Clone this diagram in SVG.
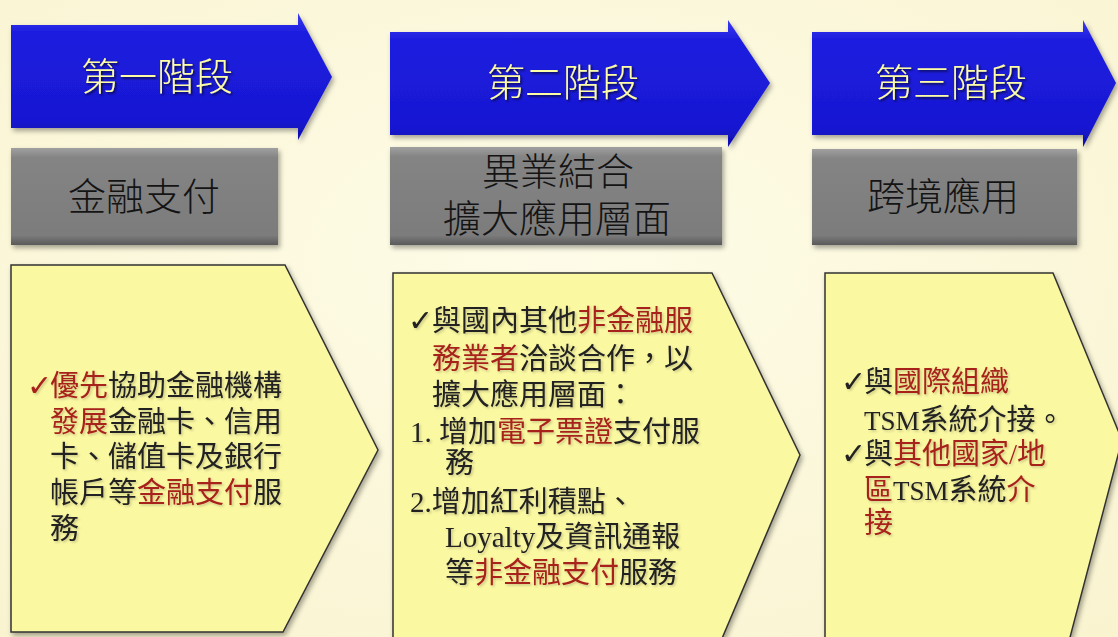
<svg xmlns="http://www.w3.org/2000/svg" width="1118" height="637" viewBox="0 0 1118 637">
<defs>
<radialGradient id="bg" cx="0.5" cy="0.4" r="0.8">
<stop offset="0" stop-color="#fefce8"/>
<stop offset="1" stop-color="#f9f3cf"/>
</radialGradient>
<linearGradient id="blue" x1="0" y1="0" x2="0" y2="1">
<stop offset="0" stop-color="#3a3af0"/>
<stop offset="0.15" stop-color="#1e1ee0"/>
<stop offset="0.85" stop-color="#1717d2"/>
<stop offset="1" stop-color="#0c0ca8"/>
</linearGradient>
<linearGradient id="gray" x1="0" y1="0" x2="0" y2="1">
<stop offset="0" stop-color="#a0a0a0"/>
<stop offset="0.1" stop-color="#848484"/>
<stop offset="0.9" stop-color="#7c7c7c"/>
<stop offset="1" stop-color="#5a5a5a"/>
</linearGradient>
<filter id="sh" x="-10%" y="-10%" width="130%" height="130%">
<feDropShadow dx="2" dy="3" stdDeviation="2.5" flood-color="#000" flood-opacity="0.35"/>
</filter>
<filter id="tsh" x="-10%" y="-20%" width="130%" height="150%">
<feDropShadow dx="1.5" dy="1.5" stdDeviation="1" flood-color="#000" flood-opacity="0.7"/>
</filter>
<filter id="bsh" x="-10%" y="-20%" width="130%" height="150%">
<feDropShadow dx="1.5" dy="1.5" stdDeviation="1.2" flood-color="#000" flood-opacity="0.2"/>
</filter>
</defs>
<style>
.arrow{fill:url(#blue);filter:url(#sh)}
.box{fill:url(#gray);filter:url(#sh)}
.pent{fill:#fbf8a2;stroke:#333;stroke-width:1.5;filter:url(#sh)}
.title{font-family:"Noto Sans CJK TC","Noto Sans CJK SC",sans-serif;font-size:38px;font-weight:300;fill:#fdfda6;text-anchor:middle;filter:url(#tsh)}
.sub{font-family:"Noto Sans CJK TC","Noto Sans CJK SC",sans-serif;font-size:38px;font-weight:300;fill:#141414;text-anchor:middle}
.body{font-family:"Liberation Serif","Noto Sans CJK TC","Noto Sans CJK SC",serif;font-size:29px;fill:#222;filter:url(#bsh)}
.red{fill:#a8241c}
.chk{font-family:"DejaVu Sans",sans-serif;font-size:30px}
.lat{font-size:27px}
</style>
<rect width="1118" height="637" fill="url(#bg)"/>

<g id="stage1">
<path class="arrow" d="M11,25 H298 V13 L332,77 L298,140 V128 H11 Z"/>
<text class="title" x="157" y="90">第一階段</text>
</g>
<g id="stage2">
<path class="arrow" d="M390,32 H728 V20 L770,83 L728,147 V135 H390 Z"/>
<text class="title" x="563" y="96">第二階段</text>
</g>
<g id="stage3">
<path class="arrow" d="M812,32 H1083 V20 L1116,83 L1083,147 V135 H812 Z"/>
<text class="title" x="951" y="96">第三階段</text>
</g>

<g id="focus1">
<rect class="box" x="11" y="148" width="267" height="97"/>
<text class="sub" x="144" y="210">金融支付</text>
</g>
<g id="focus2">
<rect class="box" x="390" y="147" width="332" height="98"/>
<text class="sub" x="558" y="185">異業結合</text>
<text class="sub" x="557" y="232">擴大應用層面</text>
</g>
<g id="focus3">
<rect class="box" x="812" y="149" width="265" height="96"/>
<text class="sub" x="943" y="210">跨境應用</text>
</g>

<g id="detail1">
<path class="pent" d="M11,265 H285 L378,450 L283,632 H11 Z"/>
<text class="body"><tspan class="chk red" x="27" y="396">✓</tspan><tspan class="red" x="50">優先</tspan><tspan>協助金融機構</tspan></text>
<text class="body" x="50" y="432"><tspan class="red">發展</tspan>金融卡、信用</text>
<text class="body" x="50" y="467">卡、儲值卡及銀行</text>
<text class="body" x="50" y="503">帳戶等<tspan class="red">金融支付</tspan>服</text>
<text class="body" x="50" y="539">務</text>
</g>

<g id="detail2">
<path class="pent" d="M393,273 H712 L800,455 L712,662 H393 Z"/>
<text class="body"><tspan class="chk" x="408" y="331">✓</tspan><tspan x="432">與國內其他</tspan><tspan class="red">非金融服</tspan></text>
<text class="body" x="432" y="369"><tspan class="red">務業者</tspan>洽談合作，以</text>
<text class="body" x="432" y="405">擴大應用層面：</text>
<text class="body" x="410" y="442">1. 增加<tspan class="red">電子票證</tspan>支付服</text>
<text class="body" x="445" y="473">務</text>
<text class="body" x="410" y="512">2.增加紅利積點、</text>
<text class="body" x="445" y="547">Loyalty及資訊通報</text>
<text class="body" x="445" y="583">等<tspan class="red">非金融支付</tspan>服務</text>
</g>

<g id="detail3">
<path class="pent" d="M825,273 H1053 L1122,440 L1068,645 H825 Z"/>
<text class="body"><tspan class="chk" x="841" y="392">✓</tspan><tspan x="864">與</tspan><tspan class="red">國際組織</tspan></text>
<text class="body" x="864" y="430"><tspan class="lat">TSM</tspan>系統介接。</text>
<text class="body"><tspan class="chk" x="841" y="464">✓</tspan><tspan x="864">與</tspan><tspan class="red">其他國家/地</tspan></text>
<text class="body" x="864" y="500"><tspan class="red">區</tspan><tspan class="lat">TSM</tspan>系統<tspan class="red">介</tspan></text>
<text class="body red" x="864" y="533">接</text>
</g>

<g id="connectors"></g>
</svg>
